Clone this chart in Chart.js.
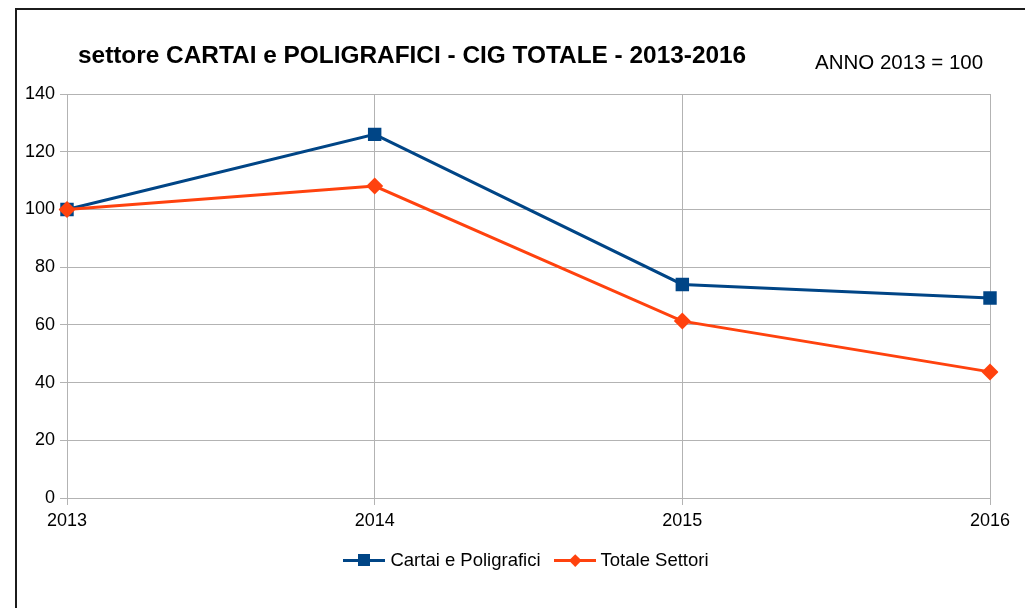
<!DOCTYPE html>
<html>
<head>
<meta charset="utf-8">
<script src="https://cdn.jsdelivr.net/npm/chart.js@4"></script>
<style>
  html, body { margin: 0; padding: 0; background: #fff; overflow: hidden; }
  body { width: 1025px; height: 608px; position: relative; font-family: "Liberation Sans", Arial, sans-serif; }
  #frame { position: absolute; left: 15px; top: 8px; width: 1100px; height: 700px; border: 2px solid #1c1c1c; }
  #wrap { position: absolute; left: 0; top: 0; width: 1025px; height: 608px; }
  #title { position: absolute; left: 78px; top: 41px; font-size: 24.4px; font-weight: bold; color: #000; white-space: nowrap; }
  #note { position: absolute; left: 815px; top: 50px; font-size: 20.5px; color: #000; white-space: nowrap; }
  #legend { position: absolute; left: 0; width: 1052px; top: 549px; display: flex; justify-content: center; font-size: 18.5px; color: #000; }
  .item { display: flex; align-items: center; margin: 0 6.5px; }
  .sample { position: relative; width: 42px; height: 22px; margin-right: 5px; }
  .sample .ln { position: absolute; left: 0; right: 0; top: 10px; height: 3px; }
  .sample .mk { position: absolute; left: 15px; top: 5px; width: 12px; height: 12px; }
  .sample .dm { position: absolute; left: 17px; top: 7px; width: 8.5px; height: 8.5px; transform: rotate(45deg); }
</style>
</head>
<body>
<div id="frame"></div>
<div id="wrap"><canvas id="chart" width="1025" height="608"></canvas></div>
<div id="title">settore CARTAI e POLIGRAFICI - CIG TOTALE - 2013-2016</div>
<div id="note">ANNO 2013 = 100</div>
<div id="legend">
  <div class="item"><div class="sample"><div class="ln" style="background:#004586"></div><div class="mk" style="background:#004586"></div></div>Cartai e Poligrafici</div>
  <div class="item"><div class="sample"><div class="ln" style="background:#ff420e"></div><div class="dm" style="background:#ff420e"></div></div>Totale Settori</div>
</div>
<script>
const years = ['2013', '2014', '2015', '2016'];
const cartaiValues = [100, 126, 74, 69.3];
const totaleValues = [100, 108.1, 61.3, 43.7];
const yTicks = [0, 20, 40, 60, 80, 100, 120, 140];

const blue = '#004586';
const orange = '#ff420e';
const grid = '#b3b3b3';

new Chart(document.getElementById('chart'), {
    type: 'line',
    data: {
        labels: years,
        datasets: [{
            label: 'Cartai e Poligrafici',
            data: cartaiValues,
            borderColor: blue,
            backgroundColor: blue,
            borderWidth: 3,
            pointStyle: 'rect',
            pointRadius: 9.5,
            pointBorderWidth: 0,
            tension: 0,
            order: 1
        }, {
            label: 'Totale Settori',
            data: totaleValues,
            borderColor: orange,
            backgroundColor: orange,
            borderWidth: 3,
            pointStyle: 'rectRot',
            pointRadius: 8.5,
            pointBorderWidth: 0,
            tension: 0,
            order: 0
        }]
    },
    options: {
        responsive: false,
        animation: false,
        events: [],
        layout: { padding: { left: 0, top: 94, right: 35, bottom: 0 } },
        plugins: {
            legend: { display: false },
            title: { display: false },
            tooltip: { enabled: false }
        },
        scales: {
            x: {
                offset: false,
                grid: { color: grid, lineWidth: 1, tickLength: 7, drawTicks: true },
                border: { color: grid },
                ticks: { color: '#000', font: { family: 'Liberation Sans', size: 18 }, padding: 5, maxRotation: 0 },
                afterFit: (scale) => { scale.height = 110; }
            },
            y: {
                min: 0,
                max: 140,
                afterBuildTicks: (scale) => { scale.ticks = yTicks.map(v => ({ value: v })); },
                grid: { color: grid, lineWidth: 1, tickLength: 7 },
                border: { color: grid },
                ticks: { color: '#000', font: { family: 'Liberation Sans', size: 18 }, padding: 5 },
                afterFit: (scale) => { scale.width = 67; }
            }
        }
    }
});
</script>
</body>
</html>
